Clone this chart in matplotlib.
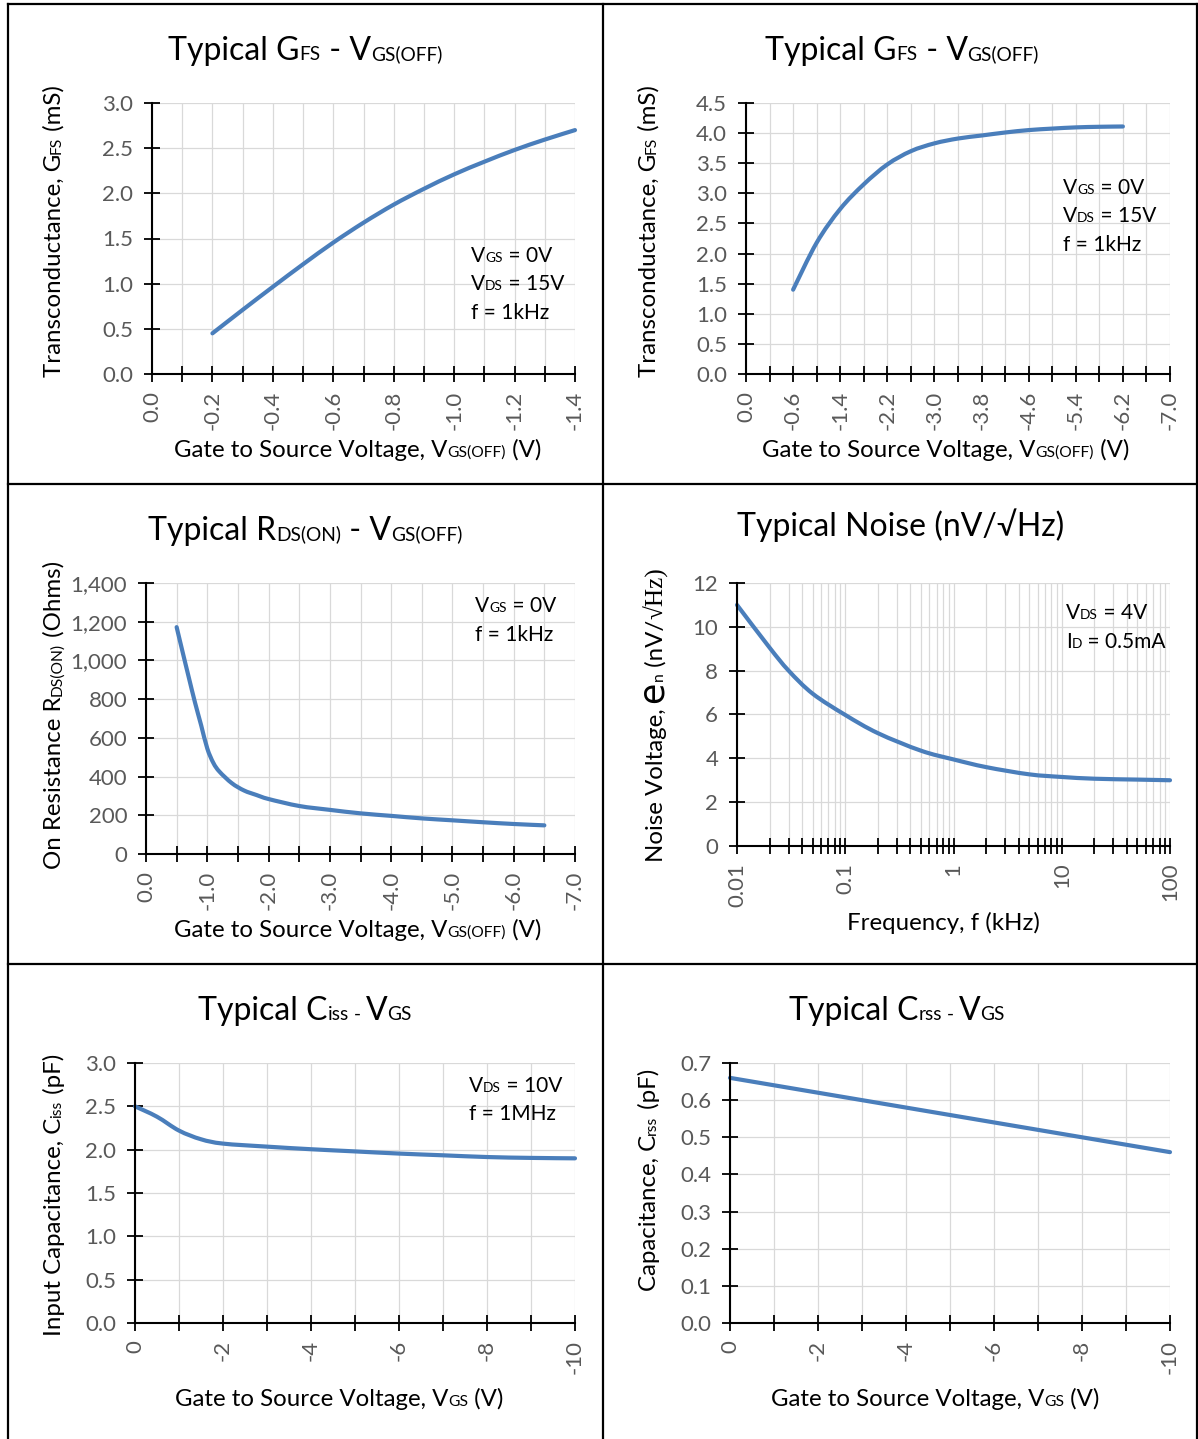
import numpy as np
import matplotlib
matplotlib.use("Agg")
import matplotlib.pyplot as plt
from matplotlib.ticker import MultipleLocator, FixedLocator, FuncFormatter, LogLocator, NullFormatter
from matplotlib.lines import Line2D
from matplotlib.path import Path
from matplotlib.patches import PathPatch

W, H = 1198, 1439
FONT = ['Lato', 'DejaVu Sans']
SERIF = ['Liberation Serif', 'DejaVu Serif']
BLUE = '#4a7ebb'
GRID = '#d9d9d9'
TICKC = '#595959'

# ---- data ----
# 1: Gfs vs Vgs(off), small range
gfs1_v = [-0.2, -0.3, -0.4, -0.5, -0.6, -0.7, -0.8, -0.9, -1.0, -1.1, -1.2, -1.3, -1.4]
gfs1_g = [0.45, 0.71, 0.965, 1.215, 1.455, 1.675, 1.875, 2.05, 2.21, 2.35, 2.48, 2.595, 2.70]

# 2: Gfs vs Vgs(off), wide range (category axis)
gfs2_cats = ['0.0', '-0.2', '-0.6', '-1.0', '-1.4', '-1.8', '-2.2', '-2.6', '-3.0', '-3.4',
             '-3.8', '-4.2', '-4.6', '-5.0', '-5.4', '-5.8', '-6.2', '-6.6', '-7.0']
gfs2_g = [np.nan, np.nan, 1.40, 2.18, 2.74, 3.15, 3.48, 3.70, 3.83, 3.91,
          3.96, 4.01, 4.05, 4.075, 4.095, 4.105, 4.11, np.nan, np.nan]

# 3: Rds(on) vs Vgs(off)
rds_v = [-0.5, -0.6, -0.7, -0.8, -0.9, -1.0, -1.1, -1.2, -1.4, -1.6, -1.8, -2.0,
         -2.5, -3.0, -3.5, -4.0, -4.5, -5.0, -5.5, -6.0, -6.5]
rds_r = [1172, 1040, 910, 782, 665, 545, 470, 425, 366, 328, 305, 284,
         248, 228, 210, 197, 184, 174, 164, 155, 148]

# 4: noise vs frequency (kHz)
noise_f = [0.01, 0.02, 0.03, 0.05, 0.1, 0.2, 0.5, 1, 2, 5, 10, 20, 50, 100]
noise_e = [11.0, 9.05, 8.0, 6.95, 5.98, 5.15, 4.35, 3.95, 3.6, 3.27, 3.15, 3.07, 3.03, 3.0]

# 5: Ciss vs Vgs
ciss_v = [0, -0.5, -1, -1.5, -2, -3, -4, -5, -6, -7, -8, -9, -10]
ciss_c = [2.50, 2.38, 2.22, 2.12, 2.07, 2.035, 2.005, 1.98, 1.955, 1.935, 1.915, 1.905, 1.90]

# 6: Crss vs Vgs
crss_v = [0, -1, -2, -3, -4, -5, -6, -7, -8, -9, -10]
crss_c = [0.66, 0.64, 0.62, 0.60, 0.58, 0.56, 0.54, 0.52, 0.50, 0.48, 0.46]

fig = plt.figure(figsize=(W / 100, H / 100), dpi=100)
R = fig.canvas.get_renderer()


def fx(px):
    return px / W


def fy(py):
    return 1 - py / H


def seg_width(txt, size, fam):
    t1 = fig.text(0, 0, '|' + txt + '|', fontsize=size, family=fam)
    t2 = fig.text(0, 0, '||', fontsize=size, family=fam)
    w = t1.get_window_extent(R).width - t2.get_window_extent(R).width
    t1.remove(); t2.remove()
    return w


def rich(x, y, parts, size, rot=0, align='center'):
    # parts: (text, scale[, family]); x,y = start/centre of baseline in px (top origin)
    items = []
    for p in parts:
        fam = p[2] if len(p) > 2 else FONT
        sz = size * p[1]
        items.append((p[0], sz, fam, seg_width(p[0], sz, fam)))
    total = sum(i[3] for i in items)
    pos = -total / 2 if align == 'center' else 0
    for txt, sz, fam, w in items:
        if rot == 0:
            fig.text(fx(x + pos), fy(y), txt, fontsize=sz, family=fam,
                     ha='left', va='baseline', color='black')
        else:
            fig.text(fx(x), fy(y - pos), txt, fontsize=sz, family=fam, ha='left',
                     va='baseline', rotation=90, rotation_mode='anchor', color='black')
        pos += w


def smooth_line(ax, xs, ys, logx=False):
    # excel-style smoothed line: cubic bezier through the points
    x = np.asarray(xs, float); y = np.asarray(ys, float)
    ok = ~np.isnan(y)
    x, y = x[ok], y[ok]
    if logx:
        x = np.log10(x)
    p = np.column_stack([x, y])
    verts = [p[0]]; codes = [Path.MOVETO]
    n = len(p)
    for i in range(n - 1):
        p0 = p[i - 1] if i > 0 else p[i]
        p3 = p[i + 2] if i + 2 < n else p[i + 1]
        c1 = p[i] + (p[i + 1] - p0) / 6
        c2 = p[i + 1] - (p3 - p[i]) / 6
        verts += [c1, c2, p[i + 1]]
        codes += [Path.CURVE4] * 3
    verts = np.array(verts)
    if logx:
        verts[:, 0] = 10 ** verts[:, 0]
    ax.add_patch(PathPatch(Path(verts, codes), fill=False, edgecolor=BLUE, lw=3.0,
                           capstyle='round', joinstyle='round', clip_on=False,
                           transform=ax.transData))


def make_ax(l, t, r, b):
    ax = fig.add_axes([fx(l), fy(b), (r - l) / W, (b - t) / H])
    for s in ['top', 'right']:
        ax.spines[s].set_visible(False)
    for s in ['left', 'bottom']:
        ax.spines[s].set_linewidth(1.5)
        ax.spines[s].set_color('black')
    ax.grid(True, which='both', color=GRID, lw=0.9)
    ax.set_axisbelow(True)
    ax.tick_params(which='both', direction='inout', length=11, width=1.3, color='black',
                   labelcolor=TICKC, labelsize=16)
    ax.tick_params(axis='y', pad=8)
    ax.tick_params(axis='x', which='both', pad=6.5, labelrotation=90)
    return ax


def fmt1(v, _):
    return f'{v:.1f}'.replace('-0.0', '0.0')


def style_labels(ax):
    for lab in ax.get_xticklabels() + ax.get_yticklabels():
        lab.set_family(FONT)


SUB = 0.6
TS = 23
LS = 17.3
AS = 15

# ---- panel 1 ----
ax1 = make_ax(152, 103, 575, 374)
smooth_line(ax1, gfs1_v, gfs1_g)
ax1.set_xlim(0, -1.4); ax1.set_ylim(0, 3.0)
ax1.xaxis.set_major_locator(FixedLocator(np.arange(0, -1.41, -0.2)))
ax1.xaxis.set_minor_locator(FixedLocator(np.arange(-0.1, -1.41, -0.2)))
ax1.yaxis.set_major_locator(MultipleLocator(0.5))
ax1.xaxis.set_major_formatter(FuncFormatter(fmt1))
ax1.yaxis.set_major_formatter(FuncFormatter(fmt1))
style_labels(ax1)

# ---- panel 2 ----
ax2 = make_ax(746, 103, 1170, 374)
pos2 = np.arange(len(gfs2_cats))
smooth_line(ax2, pos2, gfs2_g)
ax2.set_xlim(0, len(gfs2_cats) - 1); ax2.set_ylim(0, 4.5)
ax2.xaxis.set_major_locator(FixedLocator(pos2[::2]))
ax2.xaxis.set_minor_locator(FixedLocator(pos2[1::2]))
ax2.set_xticklabels(gfs2_cats[::2])
ax2.yaxis.set_major_locator(MultipleLocator(0.5))
ax2.yaxis.set_major_formatter(FuncFormatter(fmt1))
style_labels(ax2)

# ---- panel 3 ----
ax3 = make_ax(146, 583, 575, 854)
smooth_line(ax3, rds_v, rds_r)
ax3.set_xlim(0, -7.0); ax3.set_ylim(0, 1400)
ax3.xaxis.set_major_locator(FixedLocator(np.arange(0, -7.01, -1.0)))
ax3.xaxis.set_minor_locator(FixedLocator(np.arange(-0.5, -7.0, -1.0)))
ax3.yaxis.set_major_locator(MultipleLocator(200))
ax3.xaxis.set_major_formatter(FuncFormatter(fmt1))
ax3.yaxis.set_major_formatter(FuncFormatter(lambda v, _: f'{v:,.0f}'))
style_labels(ax3)

# ---- panel 4 ----
ax4 = make_ax(737, 583, 1170, 846)
ax4.set_xscale('log')
smooth_line(ax4, noise_f, noise_e, logx=True)
ax4.set_xlim(0.01, 100); ax4.set_ylim(0, 12)
ax4.xaxis.set_major_locator(FixedLocator([0.01, 0.1, 1, 10, 100]))
ax4.xaxis.set_minor_locator(LogLocator(base=10, subs=np.arange(2, 10), numticks=20))
ax4.xaxis.set_minor_formatter(NullFormatter())
ax4.xaxis.set_major_formatter(FuncFormatter(lambda v, _: f'{v:g}'))
ax4.yaxis.set_major_locator(MultipleLocator(2))
style_labels(ax4)

# ---- panel 5 ----
ax5 = make_ax(135, 1063, 575, 1323)
smooth_line(ax5, ciss_v, ciss_c)
ax5.set_xlim(0, -10); ax5.set_ylim(0, 3.0)
ax5.xaxis.set_major_locator(FixedLocator(np.arange(0, -10.1, -2)))
ax5.xaxis.set_minor_locator(FixedLocator(np.arange(-1, -10, -2)))
ax5.xaxis.set_major_formatter(FuncFormatter(lambda v, _: '0' if v == 0 else f'{v:g}'))
ax5.yaxis.set_major_locator(MultipleLocator(0.5))
ax5.yaxis.set_major_formatter(FuncFormatter(fmt1))
style_labels(ax5)

# ---- panel 6 ----
ax6 = make_ax(730, 1063, 1170, 1323)
smooth_line(ax6, crss_v, crss_c)
ax6.set_xlim(0, -10); ax6.set_ylim(0, 0.7)
ax6.xaxis.set_major_locator(FixedLocator(np.arange(0, -10.1, -2)))
ax6.xaxis.set_minor_locator(FixedLocator(np.arange(-1, -10, -2)))
ax6.xaxis.set_major_formatter(FuncFormatter(lambda v, _: '0' if v == 0 else f'{v:g}'))
ax6.yaxis.set_major_locator(MultipleLocator(0.1))
ax6.yaxis.set_major_formatter(FuncFormatter(fmt1))
style_labels(ax6)

# ---- titles ----
rich(305, 60, [('Typical G', 1), ('FS', SUB), (' - V', 1), ('GS(OFF)', SUB)], TS)
rich(902, 60, [('Typical G', 1), ('FS', SUB), (' - V', 1), ('GS(OFF)', SUB)], TS)
rich(305, 540, [('Typical R', 1), ('DS(ON)', SUB), (' - V', 1), ('GS(OFF)', SUB)], TS)
rich(901, 536, [('Typical Noise (nV/\u221aHz)', 1)], TS)
rich(305, 1020, [('Typical C', 1), ('iss', SUB), (' - ', SUB), ('V', 1), ('GS', SUB)], TS)
rich(897, 1020, [('Typical C', 1), ('rss', SUB), (' - ', SUB), ('V', 1), ('GS', SUB)], TS)

# ---- x labels ----
XS = 0.65
rich(358, 457, [('Gate to Source Voltage, V', 1), ('GS(OFF)', XS), (' (V)', 1)], LS)
rich(946, 457, [('Gate to Source Voltage, V', 1), ('GS(OFF)', XS), (' (V)', 1)], LS)
rich(358, 937, [('Gate to Source Voltage, V', 1), ('GS(OFF)', XS), (' (V)', 1)], LS)
rich(943, 930, [('Frequency, f (kHz)', 1)], LS)
rich(339, 1406, [('Gate to Source Voltage, V', 1), ('GS', XS), (' (V)', 1)], LS)
rich(935, 1406, [('Gate to Source Voltage, V', 1), ('GS', XS), (' (V)', 1)], LS)

# ---- y labels ----
rich(61, 231, [('Transconductance, G', 1), ('FS', XS), (' (mS)', 1)], LS, rot=90)
rich(656, 231, [('Transconductance, G', 1), ('FS', XS), (' (mS)', 1)], LS, rot=90)
rich(61, 715, [('On Resistance R', 1), ('DS(ON)', XS), (' (Ohms)', 1)], LS, rot=90)
rich(663, 715, [('Noise Voltage, ', 1), ('e', 1.45, ['DejaVu Sans']), ('n', XS), (' (nV/', 1),
                ('\u221aHz)', 1.05, SERIF)], LS, rot=90)
rich(61, 1195, [('Input Capacitance, C', 1), ('iss', XS), (' (pF)', 1)], LS, rot=90)
rich(656, 1180, [('Capacitance, C', 1), ('rss', XS), (' (pF)', 1)], LS, rot=90)

# ---- condition notes ----
NS = 0.66


def note(x, y0, lines):
    for i, ln in enumerate(lines):
        rich(x, y0 + i * 28.5, ln, AS, align='left')


note(471, 262, [[('V', 1), ('GS', NS), (' = 0V', 1)], [('V', 1), ('DS', NS), (' = 15V', 1)],
                [('f = 1kHz', 1)]])
note(1063, 194, [[('V', 1), ('GS', NS), (' = 0V', 1)], [('V', 1), ('DS', NS), (' = 15V', 1)],
                 [('f = 1kHz', 1)]])
note(475, 612, [[('V', 1), ('GS', NS), (' = 0V', 1)], [('f = 1kHz', 1)]])
note(1066, 619, [[('V', 1), ('DS', NS), (' = 4V', 1)], [('I', 1), ('D', NS), (' = 0.5mA', 1)]])
note(469, 1092, [[('V', 1), ('DS', NS), (' = 10V', 1)], [('f = 1MHz', 1)]])

# ---- panel frame lines ----
for xs, ys in [([8, 8], [4, H]), ([8, 1197], [4, 4]), ([603, 603], [4, H]),
               ([8, 1197], [484, 484]), ([8, 1197], [964, 964]), ([1197, 1197], [4, H])]:
    fig.add_artist(Line2D([fx(v) for v in xs], [fy(v) for v in ys], color='black', lw=1.6))

fig.savefig('out.png', dpi=100)
